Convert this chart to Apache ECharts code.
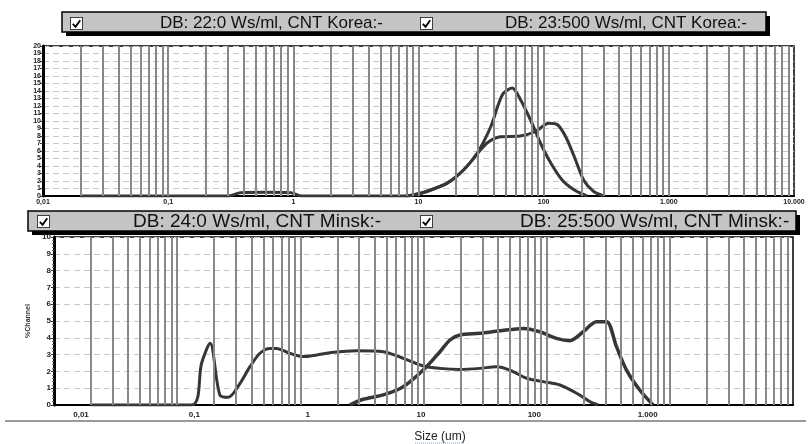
<!DOCTYPE html>
<html>
<head>
<meta charset="utf-8">
<script src="https://cdn.jsdelivr.net/npm/echarts@6.0.0/dist/echarts.min.js"></script>
<style>
  html, body { margin: 0; padding: 0; background: #fff; }
  #chart { width: 810px; height: 444px; }
</style>
</head>
<body>
<div id="chart"></div>
<script>
// legend / series names
const koreaNames = ['DB: 22:0 Ws/ml, CNT Korea:-', 'DB: 23:500 Ws/ml, CNT Korea:-'];
const minskNames = ['DB: 24:0 Ws/ml, CNT Minsk:-', 'DB: 25:500 Ws/ml, CNT Minsk:-'];

// size axis ticks
const xTickValues = [0.01, 0.1, 1, 10, 100, 1000, 10000];
const xTickLabels = ['0,01', '0,1', '1', '10', '100', '1.000', '10.000'];

// [size um, % channel]
const korea0 = [[7.9, 0], [10.4, 0.36], [12.5, 0.8], [17, 1.75], [23, 3.5], [29.4, 5.6], [35.5, 7.1],
  [45, 7.9], [65, 8.0], [86, 8.6], [110, 9.7], [129, 9.5], [150, 7.9], [176, 5.2], [209, 2.1],
  [251, 0.6], [303, 0]];
const korea500 = [[0.02, 0], [0.3, 0], [0.38, 0.45], [0.6, 0.5], [0.95, 0.45], [1.17, 0], [7.9, 0],
  [10.4, 0.36], [12.5, 0.8], [17, 1.7], [23, 3.5], [29.4, 5.7], [37.7, 9.2], [46.8, 13.5], [56, 14.4],
  [65.5, 12.8], [78.7, 10.1], [94.6, 7.0], [114, 4.4], [141, 2.1], [176, 0.8], [222, 0]];
const minsk0 = [[2.52, 0], [3.24, 0.34], [4.71, 0.6], [6.85, 1.09], [9.95, 2.08], [13.6, 3.17],
  [16.4, 3.87], [19.7, 4.17], [28.7, 4.27], [41.7, 4.42], [64.5, 4.56], [88, 4.36], [120, 3.97],
  [154, 3.83], [198, 4.36], [254, 4.96], [306, 4.96], [369, 3.47], [445, 2.08], [570, 0.89], [731, 0]];
const minsk500 = [[0.02, 0], [0.131, 0], [0.158, 2.5], [0.185, 3.67], [0.222, 0.6], [0.26, 0.46],
  [0.324, 1.29], [0.39, 2.28], [0.47, 3.08], [0.566, 3.37], [0.64, 3.37], [0.82, 3.08], [1.06, 2.88],
  [1.36, 2.98], [1.74, 3.11], [2.86, 3.23], [4.71, 3.17], [6.85, 2.78], [9.95, 2.32], [13.6, 2.18],
  [19.7, 2.12], [28.7, 2.18], [39.2, 2.28], [50.2, 2.08], [68.7, 1.59], [93.6, 1.39], [128, 1.19],
  [175, 0.7], [224, 0.2], [262, 0]];

// vertical grid lines at 1..9 x 10^k
const vLines = [];
for (let e = -2; e <= 3; e++) {
  for (let m = 1; m <= 9; m++) {
    const v = +(m * Math.pow(10, e)).toPrecision(6);
    if (v > 0.01) vLines.push(v);
  }
}

const checkbox = 'image://data:image/svg+xml;charset=utf-8,' + encodeURIComponent(
  '<svg xmlns="http://www.w3.org/2000/svg" width="14" height="14">' +
  '<rect x="0.5" y="0.5" width="13" height="13" fill="#fff" stroke="#333"/>' +
  '<path d="M3 7.5 L6 10.5 L11 3.5" fill="none" stroke="#000" stroke-width="2"/></svg>');

function tickLabel(v) {
  const i = xTickValues.findIndex(t => Math.abs(Math.log10(t) - Math.log10(v)) < 1e-6);
  return i >= 0 ? xTickLabels[i] : '';
}

const curveColor = '#363636';
function curve(name, data, axis, width) {
  return {
    name: name, type: 'line', data: data,
    xAxisIndex: axis, yAxisIndex: axis,
    symbol: 'none', smooth: 0.3, z: 3,
    lineStyle: { color: curveColor, width: width },
    itemStyle: { color: curveColor }
  };
}
function gridLines(axis) {
  return {
    type: 'line', data: [], xAxisIndex: axis, yAxisIndex: axis, z: 1,
    markLine: {
      silent: true, symbol: ['none', 'none'], label: { show: false },
      lineStyle: { color: '#888', width: 2, type: 'solid' },
      emphasis: { disabled: true },
      data: vLines.map(v => ({ xAxis: v }))
    }
  };
}
function legendItem(name, left, top, gap, size) {
  return {
    data: [name], left: left, top: top, padding: 0, itemGap: 0,
    icon: checkbox, itemWidth: 13, itemHeight: 13, selectedMode: false,
    formatter: n => '{g| }{t|' + n + '}',
    textStyle: {
      color: '#111', fontSize: size, fontFamily: 'Liberation Sans',
      rich: { g: { width: gap }, t: { fontSize: size, color: '#111', fontFamily: 'Liberation Sans' } }
    }
  };
}

const chart = echarts.init(document.getElementById('chart'), null, { renderer: 'canvas' });

const option = {
  backgroundColor: '#fff',
  animation: false,
  grid: [
    { left: 43, top: 46, width: 751, height: 150, show: true, borderColor: '#000', borderWidth: 1.5, outerBoundsMode: 'none' },
    { left: 54, top: 237, width: 739, height: 168, show: true, borderColor: '#000', borderWidth: 1.5, outerBoundsMode: 'none' },
    { left: 81, top: 237, width: 680, height: 168, show: false, outerBoundsMode: 'none' }
  ],
  xAxis: [
    {
      type: 'log', gridIndex: 0, logBase: 10, min: 0.01, max: 10000, splitNumber: 6,
      axisLine: { show: true, lineStyle: { color: '#000', width: 2 } },
      axisTick: { show: false }, splitLine: { show: false },
      axisLabel: { fontSize: 7, fontWeight: 'bold', color: '#222', margin: 3, fontFamily: 'Liberation Sans', formatter: tickLabel }
    },
    {
      type: 'log', gridIndex: 1, logBase: 10, min: 0.01, max: 10000, splitNumber: 6,
      axisLine: { show: true, lineStyle: { color: '#000', width: 2 } },
      axisTick: { show: false }, splitLine: { show: false },
      axisLabel: { show: false }
    },
    {
      type: 'log', gridIndex: 2, logBase: 10, min: 0.01, max: 10000, splitNumber: 6,
      axisLine: { show: false }, axisTick: { show: false }, splitLine: { show: false },
      axisLabel: {
        fontSize: 8, fontWeight: 'bold', color: '#222', margin: 6, fontFamily: 'Liberation Sans',
        formatter: v => (v >= 10000 ? '' : tickLabel(v))
      }
    }
  ],
  yAxis: [
    {
      type: 'value', gridIndex: 0, min: 0, max: 20, interval: 1,
      axisLine: { show: true, lineStyle: { color: '#000', width: 3 } },
      axisTick: { show: true, length: 3, lineStyle: { color: '#333' } },
      axisLabel: { fontSize: 7, fontWeight: 'bold', color: '#222', margin: 2, fontFamily: 'Liberation Sans' },
      splitLine: { show: true, lineStyle: { color: '#c8c8c8', type: [6, 4], width: 1 } }
    },
    {
      type: 'value', gridIndex: 1, min: 0, max: 10, interval: 1,
      name: '%Channel', nameLocation: 'middle', nameGap: 22,
      nameTextStyle: { fontSize: 7, color: '#333', fontWeight: 'bold', fontFamily: 'Liberation Sans' },
      axisLine: { show: true, lineStyle: { color: '#000', width: 3 } },
      axisTick: { show: true, length: 3, lineStyle: { color: '#333' } },
      minorTick: { show: true, splitNumber: 5, length: 2, lineStyle: { color: '#666' } },
      axisLabel: { fontSize: 8, fontWeight: 'bold', color: '#222', margin: 3, fontFamily: 'Liberation Sans' },
      splitLine: { show: true, lineStyle: { color: '#c8c8c8', type: [6, 4], width: 1 } }
    },
    { type: 'value', gridIndex: 2, min: 0, max: 10, show: false }
  ],
  legend: [
    legendItem(koreaNames[0], 70, 15, 72, 17),
    legendItem(koreaNames[1], 420, 15, 67, 17),
    legendItem(minskNames[0], 37, 212, 78, 19),
    legendItem(minskNames[1], 420, 212, 82, 19)
  ],
  graphic: [
    { type: 'rect', z: 0, shape: { x: 66, y: 16, width: 704, height: 20 }, style: { fill: '#000' } },
    { type: 'rect', z: 0, shape: { x: 62, y: 12, width: 704, height: 20 }, style: { fill: '#c4c4c4', stroke: '#000', lineWidth: 1.5 } },
    { type: 'rect', z: 0, shape: { x: 32, y: 215, width: 768, height: 20 }, style: { fill: '#000' } },
    { type: 'rect', z: 0, shape: { x: 28, y: 211, width: 768, height: 20 }, style: { fill: '#c4c4c4', stroke: '#000', lineWidth: 1.5 } },
    { type: 'line', z: 0, shape: { x1: 5, y1: 421, x2: 806, y2: 421 }, style: { stroke: '#9a9a9a', lineWidth: 2 } },
    { type: 'text', z: 0, x: 440, y: 437, style: { text: 'Size (um)', fontSize: 12, fontFamily: 'Liberation Sans', fill: '#222', align: 'center', verticalAlign: 'middle' } },
    { type: 'line', z: 0, shape: { x1: 415, y1: 443, x2: 465, y2: 443 }, style: { stroke: '#8899bb', lineWidth: 1, lineDash: [1, 1] } }
  ],
  series: [
    gridLines(0),
    gridLines(1),
    curve(koreaNames[0], korea0, 0, 3),
    curve(koreaNames[1], korea500, 0, 3),
    curve(minskNames[0], minsk0, 1, 3.5),
    curve(minskNames[1], minsk500, 1, 3)
  ]
};

chart.setOption(option);
</script>
</body>
</html>
